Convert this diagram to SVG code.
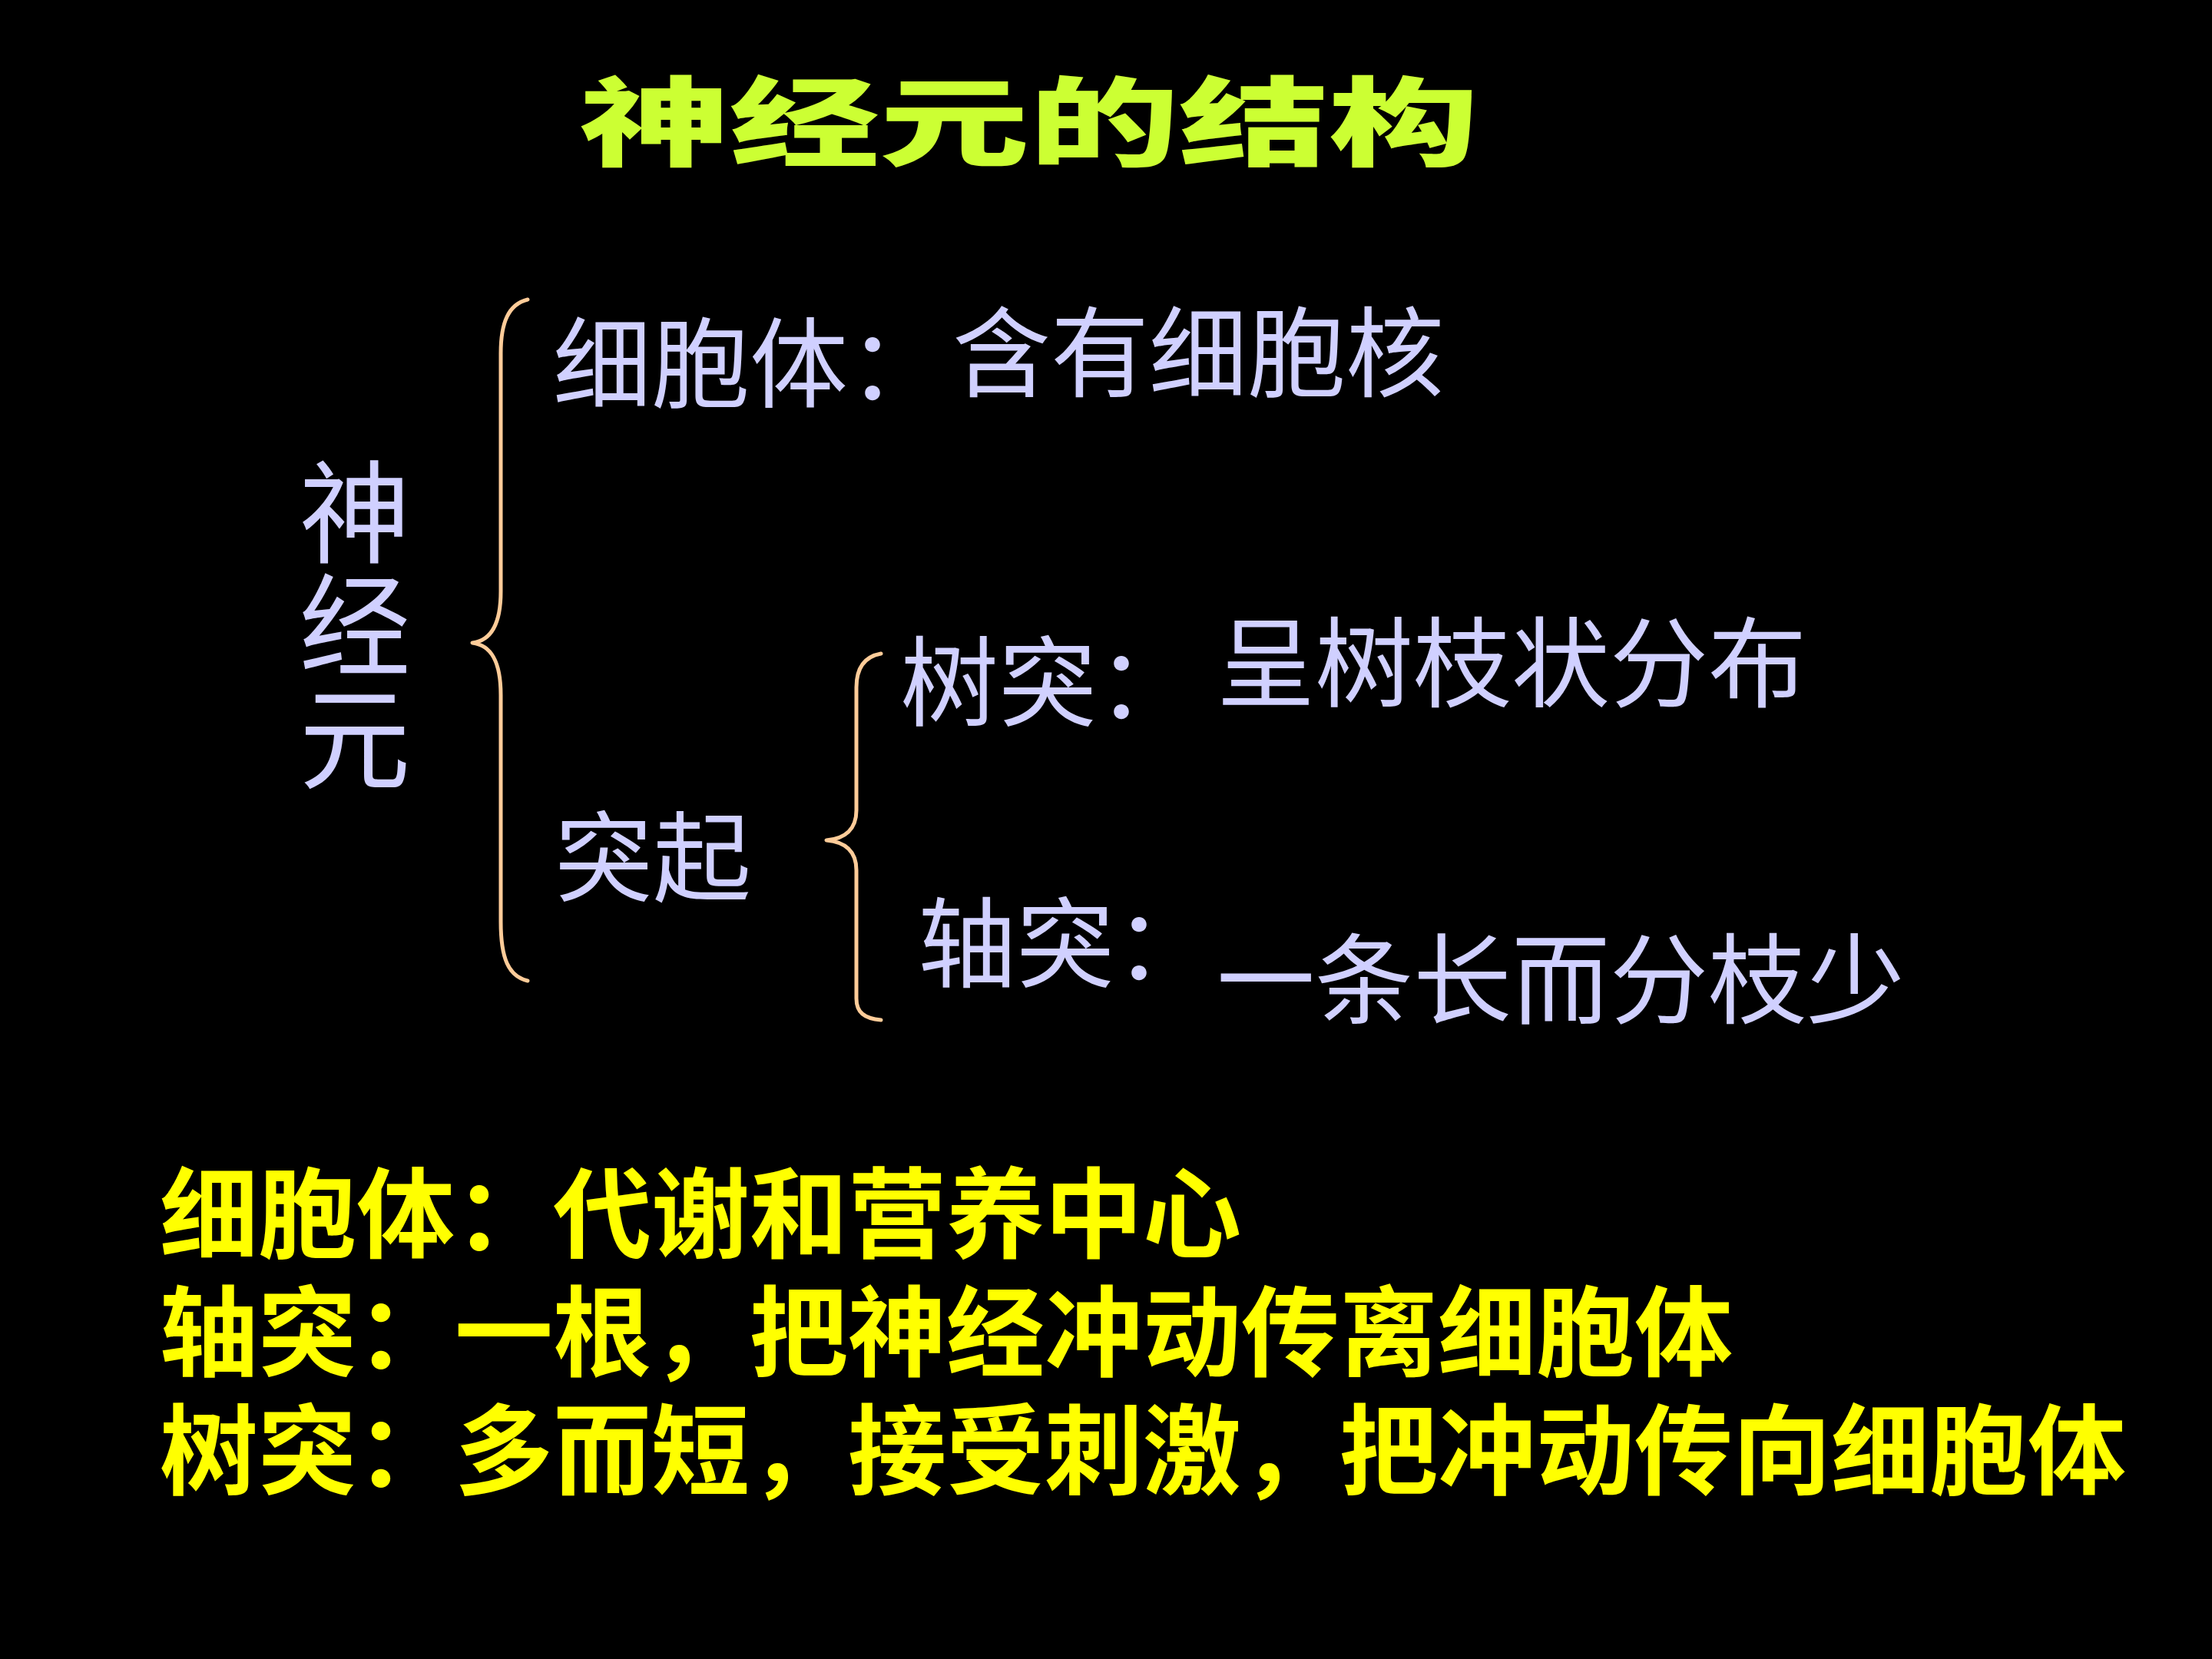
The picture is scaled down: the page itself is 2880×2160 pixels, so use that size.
<svg xmlns="http://www.w3.org/2000/svg" width="2880" height="2160" viewBox="0 0 2880 2160">
<style>
.t{font-family:"Noto Sans CJK SC","Noto Sans",sans-serif;}
.lav{fill:#D0D0FF;font-size:128px;}
.yel{fill:#FFFF00;font-size:128px;font-weight:bold;}
.title{fill:#CCFF33;font-size:126px;font-weight:900;}
.brace{fill:none;stroke:#FFCC99;stroke-width:5;stroke-linecap:round;stroke-linejoin:round;}
</style>
<rect width="2880" height="2160" fill="#000"/>
<g id="title"><text class="t title" x="755" y="206" textLength="1170" lengthAdjust="spacingAndGlyphs">神经元的结构</text></g>
<g id="node-neuron"><text class="t lav" x="462" y="594" style="font-size:145px;writing-mode:vertical-rl;letter-spacing:2px">神经元</text></g>
<g id="node-soma"><text class="t lav" x="720" y="521">细胞体：</text></g>
<g id="node-soma-desc"><text class="t lav" x="1240" y="507">含有细胞核</text></g>
<g id="node-process"><text class="t lav" x="722" y="1164">突起</text></g>
<g id="node-dendrite"><text class="t lav" x="1172" y="936">树突：</text></g>
<g id="node-dendrite-desc"><text class="t lav" x="1584" y="911">呈树枝状分布</text></g>
<g id="node-axon"><text class="t lav" x="1195" y="1276">轴突：</text></g>
<g id="node-axon-desc"><text class="t lav" x="1584" y="1323">一条长而分枝少</text></g>
<g id="connectors">
<path class="brace" d="M687,390 C662,396 652,420 652,460 L652,770 C652,812 640,834 615,837 C640,840 652,862 652,905 L652,1200 C652,1248 662,1271 687,1277"/>
<path class="brace" d="M1147,851 C1125,855 1115,870 1115,895 L1115,1055 C1115,1080 1100,1092 1076,1094 C1100,1096 1115,1108 1115,1133 L1115,1300 C1115,1318 1125,1326 1147,1328"/>
</g>
<g id="summary">
<text class="t yel" x="208" y="1628">细胞体：代谢和营养中心</text>
<text class="t yel" x="208" y="1782">轴突：一根，把神经冲动传离细胞体</text>
<text class="t yel" x="208" y="1936">树突：多而短，接受刺激，把冲动传向细胞体</text>
</g>
</svg>
